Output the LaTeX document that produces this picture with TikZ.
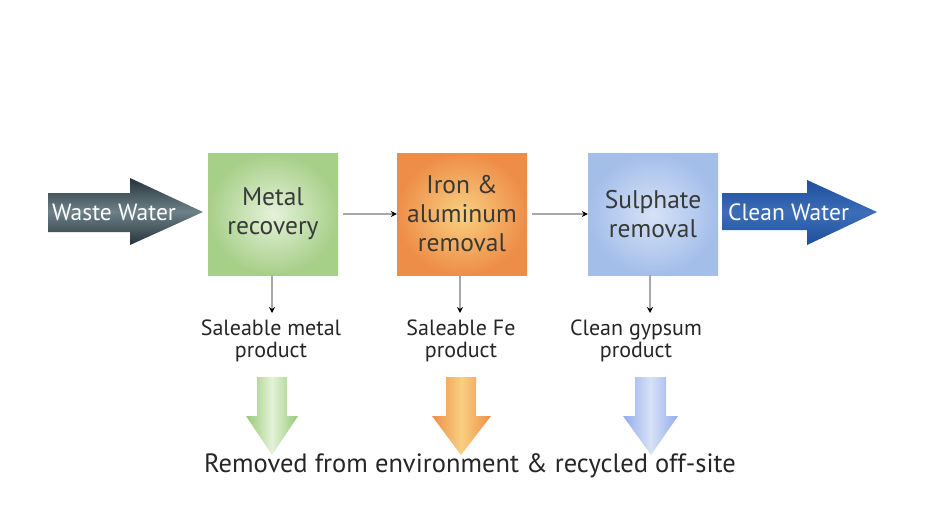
\documentclass[tikz,border=0pt]{standalone}
\usepackage{fontspec}
\setmainfont{PT Sans}
\usetikzlibrary{arrows.meta}
\definecolor{gbox}{HTML}{A6CF88}
\definecolor{gboxin}{HTML}{E6F2DA}
\definecolor{garrow}{HTML}{98C878}
\definecolor{garrowin}{HTML}{E4F2D8}
\definecolor{obox}{HTML}{EE8D48}
\definecolor{oboxin}{HTML}{F8D080}
\definecolor{bbox}{HTML}{A4BEEA}
\definecolor{bboxin}{HTML}{D6E2F6}
\definecolor{txt}{HTML}{383A38}
\definecolor{wwdark}{HTML}{25343A}
\definecolor{wwlight}{HTML}{6E8188}
\definecolor{cwdark}{HTML}{1E4F9C}
\definecolor{cwlight}{HTML}{3B6DB8}
\definecolor{linegray}{HTML}{A8A8A8}
\tikzset{
  procbox/.style={minimum width=130pt, minimum height=122pt, inner sep=0pt,
    align=center, font=\fontsize{25.5}{29}\selectfont, text=txt},
  flow/.style={draw=linegray, line width=1.6pt, -{Stealth[length=6pt,width=6pt,black]}},
  prodlabel/.style={align=center, font=\fontsize{22}{22}\selectfont, text=black!85},
  arrowtext/.style={font=\fontsize{23.5}{24}\selectfont, text=white, inner sep=0pt},
}
\begin{document}
\begin{tikzpicture}[x=1pt,y=-1pt]
\useasboundingbox (0,0) rectangle (938,527);
\fill[white] (0,0) rectangle (938,527);
% Waste water arrow
\shade[top color=wwdark, bottom color=wwdark, middle color=wwlight]
  (48,193) -- (130,193) -- (130,178) -- (203,212) -- (130,245) -- (130,232) -- (48,232) -- cycle;
\node[arrowtext, anchor=west] (ww) at (52,212) {Waste Water};
% Clean water arrow
\shade[top color=cwdark, bottom color=cwdark, middle color=cwlight]
  (722,193) -- (807,193) -- (807,180) -- (877,212) -- (807,245) -- (807,230) -- (722,230) -- cycle;
\node[arrowtext, anchor=west] (cw) at (728,212) {Clean Water};
% process boxes
\node[procbox, inner color=gboxin, outer color=gbox] (m) at (273,214) {Metal\\recovery};
\node[procbox, inner color=oboxin, outer color=obox] (f) at (462,214) {Iron \&\\aluminum\\removal};
\node[procbox, inner color=bboxin, outer color=bbox] (s) at (653,214) {Sulphate\\removal};
% connectors between boxes
\draw[flow, shorten <=5pt] (m.east) -- (f.west);
\draw[flow, shorten <=5pt] (f.east) -- (s.west);
% product labels
\node[prodlabel] (pm) at (271,341) {Saleable metal\\product};
\node[prodlabel] (pf) at (461,341) {Saleable Fe\\product};
\node[prodlabel] (ps) at (636,341) {Clean gypsum\\product};
\coordinate (pmt) at (272,313);
\coordinate (pft) at (460,313);
\coordinate (pst) at (650,313);
\draw[flow] (m.south -| pmt) -- (pmt);
\draw[flow] (f.south -| pft) -- (pft);
\draw[flow] (s.south -| pst) -- (pst);
% fat down arrows
\shade[left color=garrow, right color=garrow, middle color=garrowin]
  (257,377) -- (287,377) -- (287,416) -- (298,416) -- (272,455) -- (246,416) -- (257,416) -- cycle;
\shade[left color=obox, right color=obox, middle color=oboxin]
  (446,377) -- (476,377) -- (476,416) -- (491,416) -- (461,455) -- (432,416) -- (446,416) -- cycle;
\shade[left color=bbox!90!blue, right color=bbox!90!blue, middle color=bboxin]
  (635,377) -- (666,377) -- (666,416) -- (678,416) -- (651,455) -- (623,416) -- (635,416) -- cycle;
% bottom text
\node[font=\fontsize{26.5}{28}\selectfont, text=black!85] (bt) at (470,466)
  {Removed from environment \& recycled off-site};
\end{tikzpicture}
\end{document}
